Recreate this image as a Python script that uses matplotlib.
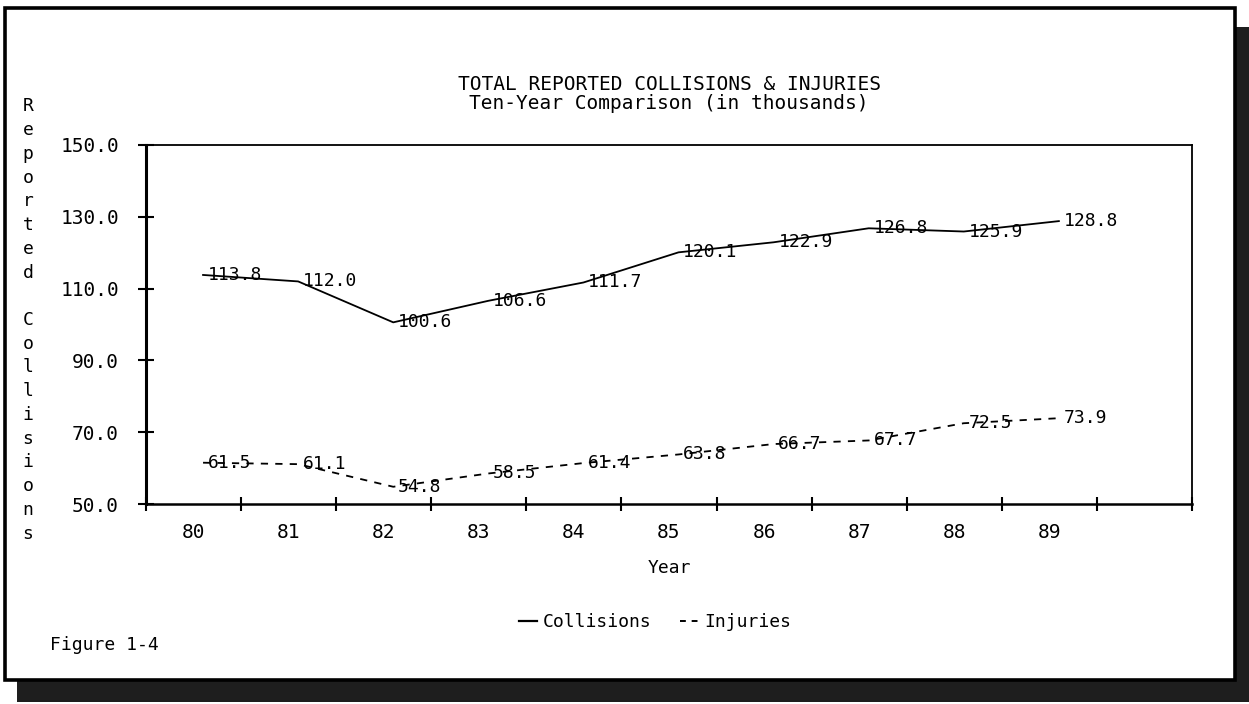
import matplotlib
matplotlib.use('Agg')
import matplotlib.pyplot as plt
from matplotlib.patches import Rectangle
from matplotlib.lines import Line2D
import numpy as np

#### data (thousands)
years = ['80', '81', '82', '83', '84', '85', '86', '87', '88', '89']
collisions = [113.8, 112.0, 100.6, 106.6, 111.7, 120.1, 122.9, 126.8, 125.9, 128.8]
injuries = [61.5, 61.1, 54.8, 58.5, 61.4, 63.8, 66.7, 67.7, 72.5, 73.9]
y_ticks = [50, 70, 90, 110, 130, 150]

plt.rcParams['font.family'] = ['DejaVu Sans Mono']
W, H = 1249, 704

fig = plt.figure(figsize=(W/100, H/100), dpi=100)

def fx(px):
    return px / W

def fy(py):
    return 1 - py / H

# shadow + page frame
fig.patches.append(Rectangle((fx(17), fy(702)), fx(1249) - fx(17), fy(27) - fy(702),
                             transform=fig.transFigure, facecolor='#1e1e1e', edgecolor='none', zorder=-3))
fig.patches.append(Rectangle((fx(5), fy(680)), fx(1235) - fx(5), fy(8) - fy(680),
                             transform=fig.transFigure, facecolor='white', edgecolor='black',
                             linewidth=2.6, zorder=-2))

ax = fig.add_axes([fx(146), fy(504), fx(1192) - fx(146), fy(145) - fy(504)])
ax.patch.set_alpha(0)

pos = np.arange(len(years))
xpts = pos + 0.6

ax.plot(xpts, collisions, color='black', lw=1.3)
ax.plot(xpts, injuries, color='black', lw=1.3, dashes=(4, 4))

for x, v in zip(xpts, collisions):
    ax.text(x + 0.05, v, f'{v:.1f}', ha='left', va='center', fontsize=13)
for x, v in zip(xpts, injuries):
    ax.text(x + 0.05, v, f'{v:.1f}', ha='left', va='center', fontsize=13)

ax.set_xlim(0, 11)
ax.set_ylim(50, 150)
ax.set_yticks(y_ticks)
ax.set_yticklabels([f'{t:.1f}' for t in y_ticks])
ax.set_xticks(np.arange(0, 12))
ax.set_xticklabels([])
ax.set_xticks(pos + 0.5, minor=True)
ax.set_xticklabels(years, minor=True)
ax.tick_params(axis='y', direction='inout', length=11, width=1.5, labelsize=14, pad=14)
ax.tick_params(axis='x', which='major', direction='inout', length=10, width=1.5)
ax.tick_params(axis='x', which='minor', length=0, labelsize=14, pad=14)

ax.spines['left'].set_linewidth(2.2)
ax.spines['bottom'].set_linewidth(1.8)
ax.spines['top'].set_linewidth(1.3)
ax.spines['right'].set_linewidth(1.3)

ax.set_xlabel('Year', fontsize=13, labelpad=12)
ax.set_title('TOTAL REPORTED COLLISIONS & INJURIES\nTen-Year Comparison (in thousands)',
             fontsize=14, linespacing=1.02, pad=26)

ylab = '\n'.join('Reported Collisions')
fig.text(fx(28), fy(320), ylab, ha='center', va='center', fontsize=13, linespacing=1.41)

fig.text(fx(50), fy(645), 'Figure 1-4', ha='left', va='center', fontsize=13)

handles = [Line2D([], [], color='black', lw=1.6),
           Line2D([], [], color='black', lw=1.4, dashes=(3, 3))]
fig.legend(handles, ['Collisions', 'Injuries'], loc='center', bbox_to_anchor=(fx(655), fy(622)),
           ncol=2, frameon=False, fontsize=13, handlelength=1.0, handletextpad=0.3, columnspacing=1.6)

fig.savefig('out.png', dpi=100)
